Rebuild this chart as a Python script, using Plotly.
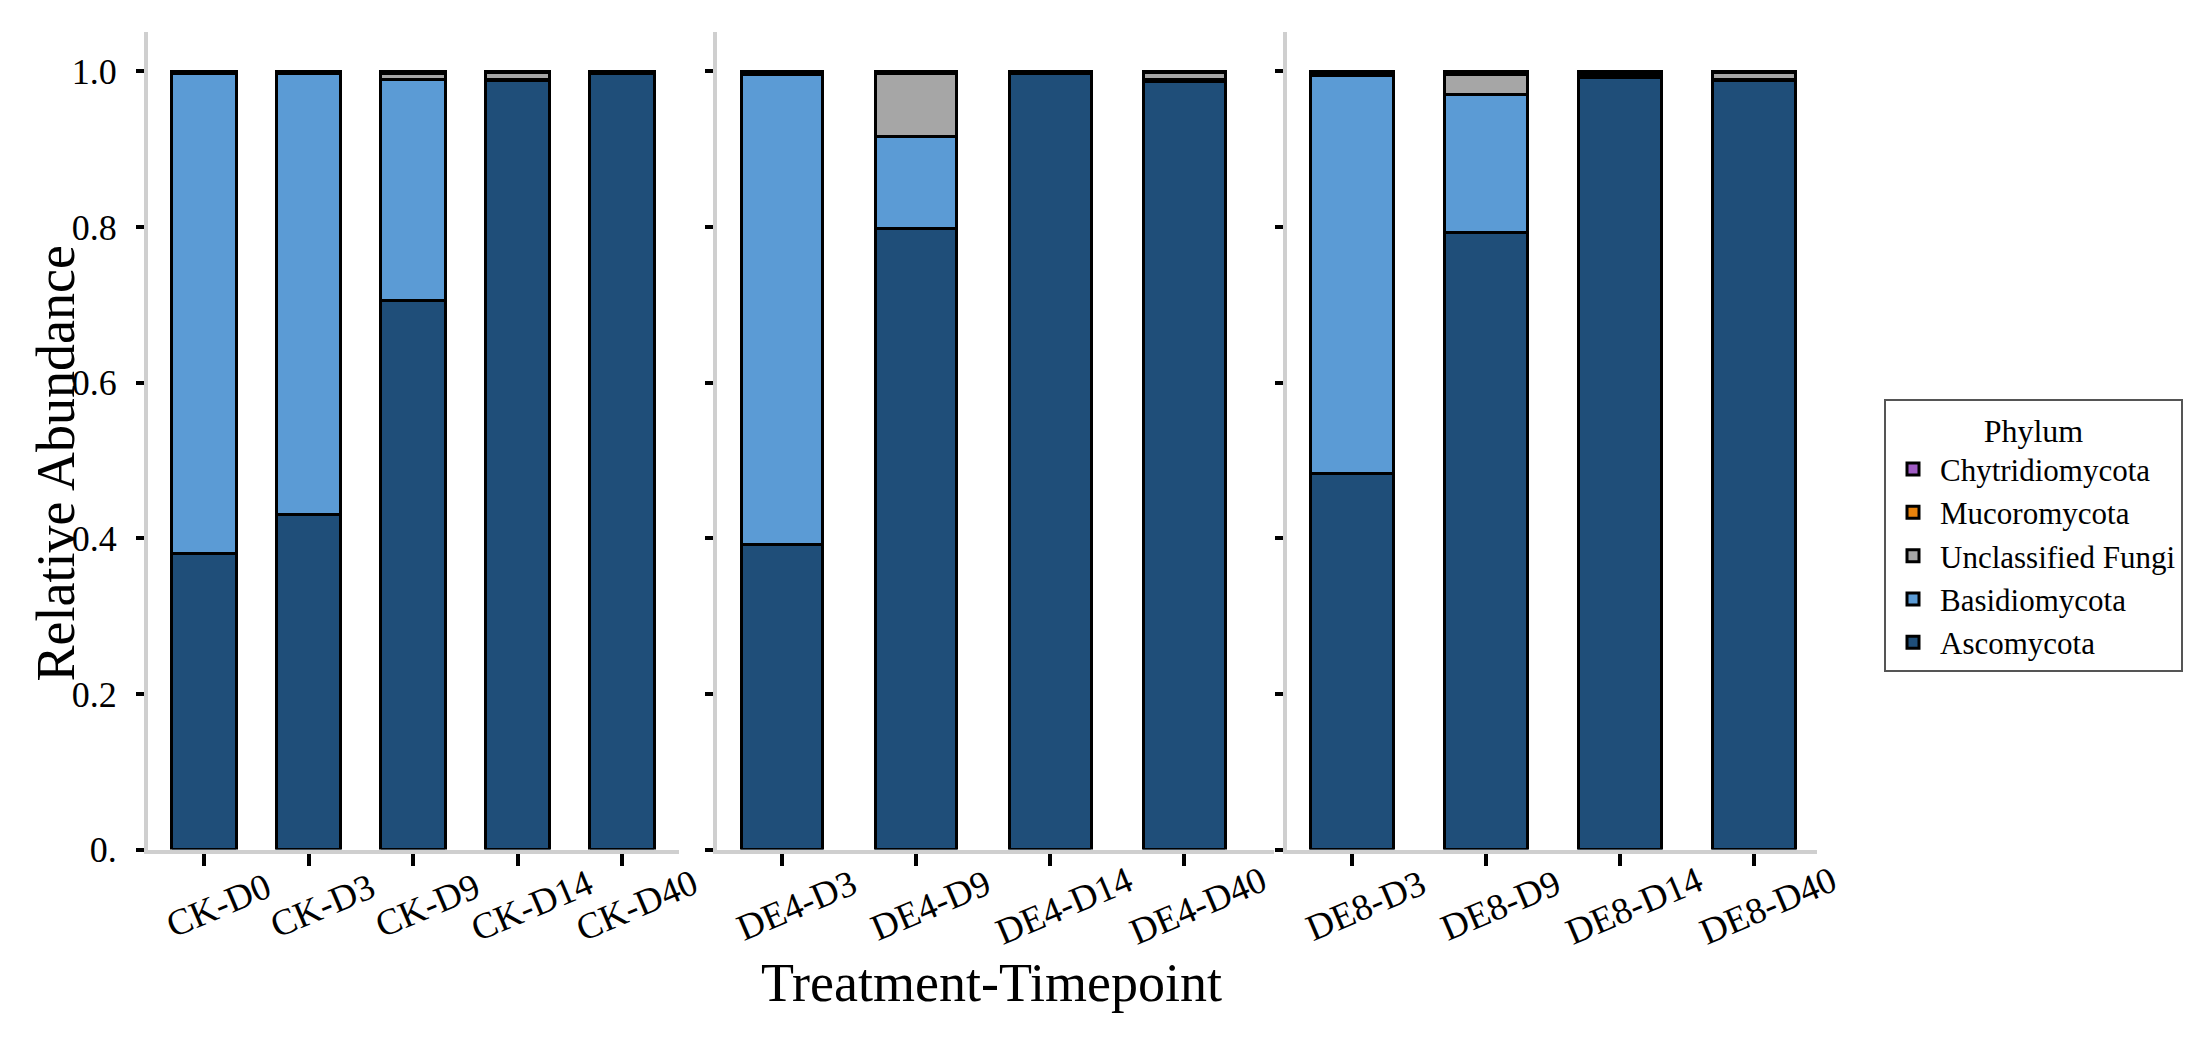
import plotly.graph_objects as go

# ---- data ----
samples_ck = ["CK-D0", "CK-D3", "CK-D9", "CK-D14", "CK-D40"]
samples_de4 = ["DE4-D3", "DE4-D9", "DE4-D14", "DE4-D40"]
samples_de8 = ["DE8-D3", "DE8-D9", "DE8-D14", "DE8-D40"]

phyla = ["Ascomycota", "Basidiomycota", "Unclassified Fungi", "Mucoromycota", "Chytridiomycota"]
colors = ["#1F4E79", "#5B9BD5", "#A6A6A6", "#E8820C", "#A05CC4"]

# values per panel, one list per phylum (bottom -> top)
ascomycota_ck = [0.380, 0.430, 0.706, 0.988, 0.997]
basidiomycota_ck = [0.617, 0.567, 0.283, 0.002, 0.001]
unclassified_ck = [0.002, 0.002, 0.008, 0.008, 0.001]
mucoromycota_ck = [0.0005, 0.0006, 0.002, 0.0015, 0.0005]
chytridiomycota_ck = [0.0005, 0.0004, 0.001, 0.0005, 0.0005]

ascomycota_de4 = [0.392, 0.798, 0.997, 0.987]
basidiomycota_de4 = [0.604, 0.118, 0.001, 0.002]
unclassified_de4 = [0.003, 0.081, 0.001, 0.009]
mucoromycota_de4 = [0.0005, 0.002, 0.0005, 0.001]
chytridiomycota_de4 = [0.0005, 0.001, 0.0005, 0.001]

ascomycota_de8 = [0.483, 0.793, 0.992, 0.988]
basidiomycota_de8 = [0.512, 0.177, 0.001, 0.001]
unclassified_de8 = [0.003, 0.026, 0.003, 0.009]
mucoromycota_de8 = [0.001, 0.002, 0.002, 0.001]
chytridiomycota_de8 = [0.001, 0.002, 0.002, 0.001]

y_tickvals = [0, 0.2, 0.4, 0.6, 0.8, 1.0]
y_ticktext = ["0.", "0.2", "0.4", "0.6", "0.8", "1.0"]

panels = [
    (samples_ck, [ascomycota_ck, basidiomycota_ck, unclassified_ck, mucoromycota_ck, chytridiomycota_ck], 0.62),
    (samples_de4, [ascomycota_de4, basidiomycota_de4, unclassified_de4, mucoromycota_de4, chytridiomycota_de4], 0.61),
    (samples_de8, [ascomycota_de8, basidiomycota_de8, unclassified_de8, mucoromycota_de8, chytridiomycota_de8], 0.62),
]

W, H = 2211, 1045
FONT = "Liberation Serif, Times New Roman, serif"

fig = go.Figure()
axis_ids = ["", "2", "3"]
for p, (samples, series, bw) in enumerate(panels):
    for k, name in enumerate(phyla):
        fig.add_trace(go.Bar(
            x=samples, y=series[k], name=name,
            marker=dict(color=colors[k], line=dict(color="black", width=3)),
            width=bw,
            legendgroup=name, showlegend=(p == 0),
            xaxis="x" + axis_ids[p], yaxis="y" + axis_ids[p],
        ))

# panel pixel geometry
dom_px = [(148, 679), (717, 1274), (1287, 1817)]
ranges = [[-0.536, 4.545], [-0.485, 3.67], [-0.485, 3.47]]
ydom = [(H - 867) / H, (H - 33) / H]

layout = dict(
    width=W, height=H, autosize=False,
    margin=dict(l=0, r=0, t=0, b=0),
    paper_bgcolor="white", plot_bgcolor="white",
    barmode="stack",
    font=dict(family=FONT, color="black"),
    showlegend=True,
    legend=dict(
        x=1884 / W, y=1 - 407 / H, xanchor="left", yanchor="top",
        traceorder="reversed",
        bgcolor="white", bordercolor="#555555", borderwidth=2,
        font=dict(family=FONT, size=31, color="black"),
        title=dict(text="Phylum", side="top center", font=dict(family=FONT, size=32)),
        tracegroupgap=0, itemwidth=44,
    ),
)
for p in range(3):
    xa = "xaxis" + axis_ids[p]
    ya = "yaxis" + axis_ids[p]
    layout[xa] = dict(
        domain=[dom_px[p][0] / W, dom_px[p][1] / W],
        range=ranges[p], type="category",
        showline=True, linecolor="#cfcfcf", linewidth=4,
        ticks="outside", ticklen=12, tickwidth=4, tickcolor="black",
        showticklabels=False, showgrid=False, zeroline=False,
        anchor="y" + axis_ids[p],
    )
    layout[ya] = dict(
        domain=ydom, range=[0, 1.05],
        showline=True, linecolor="#cfcfcf", linewidth=4,
        ticks="outside", ticklen=8, tickwidth=4, tickcolor="black",
        tickvals=y_tickvals, ticktext=y_ticktext,
        showticklabels=(p == 0), ticklabelstandoff=12,
        tickfont=dict(family=FONT, size=36, color="black"),
        showgrid=False, zeroline=False,
        anchor="x" + axis_ids[p],
    )
fig.update_layout(**layout)

# x tick labels, centred on ticks and rotated
for p, (samples, series, bw) in enumerate(panels):
    for s in samples:
        fig.add_annotation(
            x=s, xref="x" + axis_ids[p], y=1 - 924 / H, yref="paper",
            text=s, showarrow=False, textangle=-23, xshift=14,
            xanchor="center", yanchor="middle",
            font=dict(family=FONT, size=37, color="black"),
        )

fig.add_annotation(
    x=991 / W, y=1 - 1003 / H, xref="paper", yref="paper",
    text="Treatment-Timepoint", showarrow=False,
    xanchor="center", yanchor="middle",
    font=dict(family=FONT, size=54, color="black"),
)
fig.add_annotation(
    x=56 / W, y=1 - 473 / H, xref="paper", yref="paper",
    text="Relative Abundance", showarrow=False, textangle=-90,
    xanchor="center", yanchor="middle",
    font=dict(family=FONT, size=54, color="black"),
)

fig.write_html(
    "out.html",
    config={"displayModeBar": False},
    post_script="document.body.style.margin='0';document.body.style.overflow='hidden';",
)
